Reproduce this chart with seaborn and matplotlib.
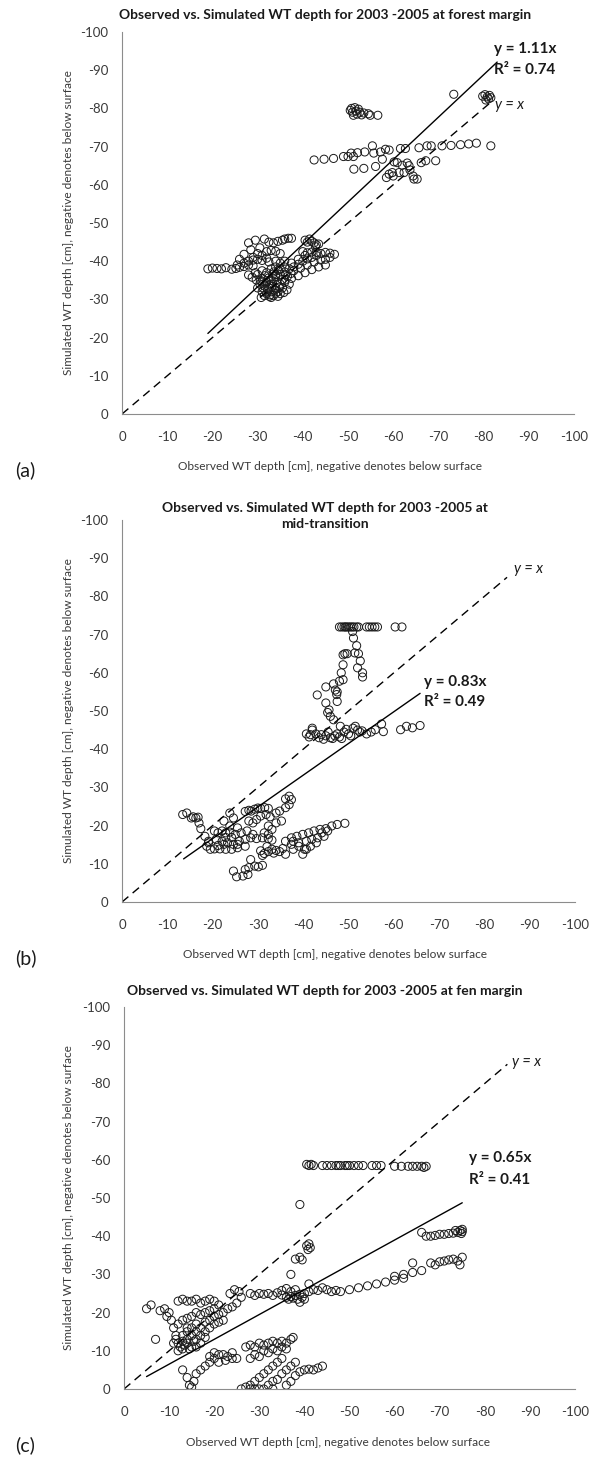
import matplotlib
matplotlib.use("Agg")
import matplotlib.pyplot as plt
import seaborn as sns
import pandas as pd

sns.set_theme(style="white")
plt.rcParams['font.family'] = ['Lato', 'DejaVu Sans']

# ---------------- data (observed x, simulated y), cm ----------------
pts_a = [
    # upper cluster
    (-50.5,-79.5),(-50.8,-80),(-51,-79),(-51.2,-78.2),(-51.5,-80.2),(-51.8,-79.3),(-52,-78.5),(-52.3,-79.8),
    (-52.6,-79),(-53,-78.3),(-53.5,-78.8),(-54.5,-78.6),(-54.9,-78.2),(-56.6,-78.2),
    (-73.4,-83.7),(-79.8,-83.2),(-80.3,-83.6),(-80.8,-83),(-81.1,-82.5),(-81.3,-83.4),(-81.6,-82.8),(-80.5,-82.2),
    (-42.5,-66.5),(-44.7,-66.7),(-46.8,-66.9),(-49.0,-67.4),(-50.0,-67.4),(-50.7,-68.3),(-51.2,-67.4),(-51.3,-64.1),
    (-52.1,-68.4),(-53.5,-64.3),(-53.7,-68.6),(-55.4,-70.2),(-55.7,-68.3),(-56.1,-64.8),(-57.2,-68.6),(-57.6,-66.7),
    (-58.3,-69.3),(-59.1,-69.1),(-58.5,-61.9),(-59.1,-62.8),(-59.8,-63.2),(-60.0,-62.3),(-60.2,-66.0),(-60.9,-65.8),
    (-61.3,-63.2),(-61.6,-69.5),(-62.0,-65.1),(-62.4,-63.2),(-62.7,-69.5),(-63.1,-65.7),(-63.5,-65.0),(-63.7,-63.9),
    (-64.4,-62.3),(-64.6,-61.5),(-65.3,-61.5),(-65.7,-69.7),(-66.2,-65.8),(-67.2,-66.3),(-67.5,-70.2),(-68.4,-70.2),
    (-69.4,-66.3),(-70.8,-70.2),(-72.8,-70.3),(-74.9,-70.5),(-76.7,-70.7),(-78.4,-70.9),(-81.6,-70.2),
    # lower cluster
    (-19,-38),(-20,-38.2),(-21,-38.1),(-22,-38),(-23,-38.3),(-24.3,-37.9),(-25.2,-38.1),(-26,-38.4),(-27,-38.6),(-28,-39),
    (-27,-39.5),(-28,-40),(-29,-40.3),(-30,-40.5),(-31,-40.2),(-32,-40.8),(-26,-40.5),(-27,-41.8),(-28.5,-43),
    (-28,-44.8),(-29.5,-45.5),(-30.5,-43.5),(-31.5,-45.8),(-32.5,-45),(-33.5,-44.8),(-34.5,-45.2),(-35.5,-45.5),
    (-36,-45.8),(-36.8,-46),(-37.5,-46),(-30,-42),(-31,-41.5),(-32,-42.5),(-33,-42.8),(-34,-42.6),(-35,-42),(-29,-41),
    (-40.5,-45.5),(-41,-45),(-41.5,-45.8),(-42,-45.2),(-42.5,-44.8),(-43,-44.3),(-43.5,-44.5),(-42.8,-43.8),
    (-40,-42.5),(-41,-42.2),(-42,-42.4),(-43,-42.3),(-44,-42),(-45,-42.3),(-46,-42.1),(-47,-41.8),
    (-33,-35),(-34,-36),(-35,-36.5),(-36,-37.2),(-37,-38),(-38,-38.5),(-39,-39.2),(-40,-40),(-41,-40.6),(-42,-41),
    (-43,-41.5),(-36,-38.5),(-37.5,-39.5),(-39,-40.5),(-40.5,-41.5),(-35,-38),(-38,-37.5),(-39.5,-38.2),(-41,-39),
    (-42.5,-39.8),(-44,-40.3),(-45,-40.5),(-46,-41),
    (-36,-34.5),(-37.5,-35.5),(-39,-36.2),(-40.5,-37),(-42,-37.8),(-43.5,-38.5),(-45,-39),
    (-30,-33),(-30.5,-34),(-31,-32),(-31.5,-33.5),(-32,-31.5),(-32,-34.5),(-32.5,-33),(-33,-32),(-33,-34),(-33.5,-31),
    (-33.5,-35.5),(-34,-33),(-34,-36.5),(-34.5,-32),(-35,-34),(-35,-31.5),(-35.5,-33),(-36,-35),(-31,-35.5),
    (-30,-36.5),(-29.5,-37),(-31,-37.5),(-32,-37),(-33,-38),(-34,-38.5),(-35,-39.5),(-32.5,-39.8),(-34,-40),(-36,-40),
    (-31.5,-31),(-33,-30.5),(-34.5,-30.8),(-36.5,-32.5),(-37,-34),(-30.8,-30.5),
    (-31.2,-33),(-31.8,-34.2),(-32.2,-32.6),(-32.8,-31.2),(-33.2,-33.4),(-33.8,-32.4),(-34.2,-34.4),(-34.8,-33.2),
    (-32.4,-35.6),(-33.4,-36.6),(-31.6,-36.2),(-30.6,-35),(-35.4,-35.2),(-36.2,-36.4),(-32.6,-30.8),(-34,-31.6),
    (-35.8,-31.8),(-31,-34.6),(-33.6,-37.2),(-34.6,-37.6),(-36.6,-36),(-37.4,-36.8),
    (-28,-36.4),(-28.8,-35.8),(-29.7,-35.1),(-29,-38.8),(-25.5,-39),
]

pts_b = [
    (-48,-72),(-48.5,-72),(-49,-72),(-49.3,-72),(-49.6,-72),(-50,-72),(-50.4,-72),(-50.8,-72),(-51.2,-72),
    (-51.8,-72),(-52.2,-72),(-54,-72),(-54.6,-72),(-55.2,-72),(-55.8,-72),(-56.4,-72),(-60.3,-72),(-61.8,-72),
    (-50.9,-70.8),(-51.1,-69.1),(-51.8,-67.1),(-52.2,-65.0),(-51.4,-65.2),(-49.2,-65.0),(-48.8,-64.7),(-49.7,-65),
    (-52.6,-63.1),(-52,-61.3),(-53.1,-60),(-53.1,-58.9),(-48.8,-62.1),(-48.4,-60),(-48.8,-58.2),(-48,-57.8),
    (-46.7,-57.1),(-47.1,-55.5),(-47.5,-55),(-47.4,-54.3),(-47.5,-52.5),(-45,-56.3),(-43.1,-54.2),(-45,-52.1),
    (-45.7,-50.3),(-45.4,-49.6),(-46,-48.6),(-46.7,-47.7),(-48.2,-46),
    (-40.7,-44),(-41.3,-43.2),(-42,-45),(-42.8,-44),(-43.5,-43),(-44,-43.8),(-44.5,-42.6),(-45,-43.5),(-45.5,-44.5),
    (-46,-43),(-46.5,-42.8),(-47,-43.5),(-47.5,-44),(-48,-43.2),(-48.5,-42.8),(-49,-44.5),(-49.5,-45.2),(-50,-44),
    (-50.5,-43.5),(-51,-45.5),(-51.5,-46),(-52,-45),(-52.5,-44.5),(-53,-44.8),(-54,-44),(-55,-44.5),
    (-55.9,-45.1),(-57.3,-46.6),(-57.7,-44.6),(-61.5,-45.1),(-62.8,-46),(-64.1,-45.6),(-65.8,-46.2),(-42,-45.5),(-41.6,-43.8),
    (-13.4,-22.9),(-14.3,-23.3),(-15.7,-22.3),(-16.3,-22),(-16.8,-22.2),(-17,-20.7),(-17.4,-19.2),(-18.3,-17.2),
    (-19.1,-15.9),(-19.5,-13.8),(-15.3,-22),(-18.7,-14.6),
    (-20.4,-18.6),(-21.2,-18.1),(-22.1,-18.6),(-22.9,-18.1),(-23.8,-18.3),(-20.4,-13.9),(-21.6,-13.9),(-22.9,-13.8),
    (-24.2,-13.8),(-25.5,-14.2),(-20.8,-16.4),(-22.1,-15.9),(-23.3,-15.5),(-24.6,-15.1),(-25.9,-15.9),(-27.2,-16.4),
    (-28.4,-16.8),(-29.7,-16.6),(-31,-16.8),(-32.3,-16.6),(-33.1,-16.2),(-25,-17.7),(-26.3,-18.1),(-27.6,-18.6),
    (-28.9,-17.7),(-23.8,-19.9),(-25.5,-19.4),(-27.2,-14.6),(-25.5,-15.1),(-22.5,-15.1),(-21.2,-14.8),(-24.2,-16.9),
    (-22.9,-16.9),(-22.5,-21.2),(-23.8,-23.3),(-24.6,-22),
    (-27.2,-23.7),(-28,-24),(-28.5,-23.8),(-29.3,-24.3),(-30,-24.6),(-30.6,-24.5),(-31.5,-24.7),(-32.3,-24.5),
    (-28,-21.2),(-28.9,-20.7),(-29.7,-21.6),(-30.6,-22.5),(-31.8,-22.9),(-32.7,-22.3),(-34,-23.3),(-34.8,-23.8),
    (-36.1,-24.7),(-36.9,-25.5),(-37.4,-26.8),(-36.1,-27),(-36.9,-27.7),(-32.3,-19.9),(-33.1,-19),(-34,-20.7),
    (-35.2,-21.2),(-31.4,-18.1),(-32.3,-17.7),
    (-30.6,-13.4),(-31.4,-12.7),(-32.3,-13.2),(-33.1,-13.8),(-34,-13.5),(-34.8,-13.2),(-31,-12.2),(-33.5,-12.8),
    (-32,-14.5),(-35.5,-14),(-36.1,-12.5),(-37.8,-13.8),(-39.9,-12.5),(-40.7,-13.8),(-39,-14.6),(-37.8,-15.9),
    (-24.6,-8.1),(-25.3,-6.6),(-26.7,-6.8),(-27.2,-8.5),(-28,-9),(-28.4,-11.1),(-29.3,-9.4),(-30.1,-9.2),(-31,-9.6),(-27.8,-7.2),
    (-36.1,-15.9),(-37.4,-16.8),(-38.6,-17.2),(-39.9,-17.7),(-41.2,-18.1),(-42.4,-18.6),(-43.7,-19),(-45,-19.2),
    (-46.3,-19.9),(-47.5,-20.3),(-49.2,-20.6),(-37.4,-15.1),(-39,-15.5),(-40.7,-15.9),(-41.9,-16.4),(-43.2,-16.8),
    (-44.6,-17.2),(-41.6,-14.6),(-40.3,-13.8),(-42.9,-15.5),(-44.1,-18.1),(-45.4,-18.6),(-19.1,-15.5),
]

pts_c = [
    (-40.5,-58.8),(-41,-58.5),(-41.5,-58.8),(-42,-58.5),(-44,-58.5),(-45,-58.5),(-46,-58.5),(-47,-58.5),(-47.5,-58.5),
    (-48,-58.5),(-49,-58.5),(-49.5,-58.5),(-50,-58.5),(-51,-58.5),(-52,-58.5),(-53,-58.5),(-55,-58.5),(-56,-58.5),
    (-57,-58.5),(-60,-58.3),(-61.5,-58.3),(-63,-58.3),(-64,-58.3),(-65,-58.3),(-66,-58.3),(-66.5,-58),(-67,-58.3),
    (-39,-48.3),(-40.5,-37.5),(-41,-38),(-41.3,-37),(-40.8,-36.5),(-37,-30),(-38,-34),(-39,-34.5),(-39.5,-33.8),
    (-28,-25),(-29,-24.5),(-30,-25),(-31,-24.8),(-32,-25),(-33,-24.5),(-34,-25.2),(-35,-24.6),(-36,-24),(-36.5,-23.5),
    (-37,-24.2),(-37.5,-23.8),(-38,-24.5),(-38.5,-23.5),(-39,-24.8),(-39.5,-24),(-40,-25),(-41,-25.5),(-42,-26),
    (-43,-25.8),(-44,-26.5),(-45,-26),(-46,-25.5),(-47,-25.8),(-48,-25.5),(-50,-26),(-52,-26.5),(-54,-27),(-56,-27.5),
    (-58,-28),(-60,-28.5),(-62,-29),(-35,-25.8),(-36,-26.3),(-37,-25.5),(-38,-26),(-39,-22.7),(-40,-23.5),(-41,-27.5),
    (-64,-33),(-66,-41),(-67,-40),(-68,-40),(-69,-40.2),(-70,-40.5),(-71,-40.5),(-72,-40.7),(-73,-40.8),(-74,-41),
    (-74.5,-41.5),(-75,-41.2),(-74.8,-40.7),(-73.5,-41.5),(-75,-41.8),
    (-68,-33),(-69,-32.5),(-70,-33.3),(-71,-33.5),(-72,-33.8),(-73,-34),(-74,-33.5),(-74.5,-32.5),(-75,-34.5),
    (-64,-30.5),(-66,-31),(-62,-30),(-60,-29.5),
    (-27,-11),(-28,-11.5),(-29,-11),(-30,-12),(-31,-11.5),(-32,-12),(-33,-12.5),(-34,-12),(-35,-12.5),(-36,-12),
    (-37,-13),(-37.5,-13.5),(-28,-8),(-29,-9),(-30,-8.5),(-31,-10),(-32,-9.5),(-33,-10.5),(-34,-10),(-35,-11),(-36,-10.5),
    (-27,-0.5),(-28,-1),(-29,-2),(-30,-3),(-31,-4),(-32,-5),(-33,-6),(-34,-7),(-35,-8),(-29,0),(-31,0),(-32,-1),
    (-33,-2),(-34,-2.5),(-35,-4),(-36,-5),(-37,-6),(-38,-7),(-26,0),(-28,0),(-30,0),(-33,0),(-36,-1),(-37,-2),
    (-38,-3.5),(-39,-4.5),(-40,-5),(-41,-5.2),(-42,-5),(-43,-5.5),(-44,-6),
    (-5,-21),(-6,-22),(-7,-13),(-8,-20.5),(-9,-21),(-10,-20),(-9.5,-19),(-10.5,-18),(-11,-16),(-11.5,-14),(-12,-12),
    (-12.5,-11),(-13,-10.5),(-13.5,-11.5),(-14,-12),(-14.5,-10.5),(-15,-11),(-15.5,-12.5),(-16,-11),(-13,-14),
    (-14,-15),(-15,-16),(-16,-17),(-17,-16),(-18,-17.5),(-19,-18),(-20,-19),(-21,-19.5),(-22,-20),(-23,-21),
    (-24,-21.5),(-25,-22.5),(-26,-24),(-25.5,-25.5),(-24.5,-26),(-23.5,-25),(-12,-23),(-13,-23.5),(-14,-23),
    (-15,-23),(-16,-23.5),(-17,-22.5),(-18,-23),(-19,-23.5),(-20,-23),(-21,-22),(-12,-17),(-13,-18),(-14,-18.5),
    (-15,-19),(-16,-20),(-17,-19.5),(-18,-20),(-19,-20.5),(-20,-21),(-14,-16),(-15,-14),(-16,-15),(-17,-14),
    (-18,-15),(-19,-16),(-20,-17),(-21,-17.5),(-22,-18),(-11,-12),(-11.5,-13),(-12,-10),(-13,-12.5),(-14,-13),
    (-16,-13),(-17,-12),(-18,-13.5),
    (-13,-5),(-14,-3),(-14.5,-1),(-15,-0.5),(-15.5,-2),(-16,-4),(-17,-5),(-18,-6),(-19,-7),(-20,-8),(-21,-9),
    (-20,-9.5),(-22,-9),(-23,-8.5),(-24,-8),(-25,-8),(-22.5,-7.5),(-24,-9.5),(-19,-8.5),(-21,-7),
]

titles = ["Observed vs. Simulated WT depth for 2003 -2005 at forest margin",
          "Observed vs. Simulated WT depth for 2003 -2005 at\nmid-transition",
          "Observed vs. Simulated WT depth for 2003 -2005 at fen margin"]
panel_tags = ["(a)", "(b)", "(c)"]
slopes = [1.11, 0.83, 0.65]
r2_vals = [0.74, 0.49, 0.41]
fit_x = [(-19, -83), (-13.6, -65.8), (-5, -75)]
ident_end = [-82, -85, -85]
eq_pos = [(-82.3, -95.5, -90.0), (-66.6, -57.5, -52.3), (-76.5, -60.5, -54.8)]
yx_pos = [(-82.6, -80.8), (-86.5, -87.2), (-86.0, -85.6)]
ticks = [0, -10, -20, -30, -40, -50, -60, -70, -80, -90, -100]
x_label = "Observed WT depth [cm], negative denotes below surface"
y_label = "Simulated WT depth [cm], negative denotes below surface"

# ---------------- layout (pixels) ----------------
W, H = 600, 1459
fig = plt.figure(figsize=(W / 100, H / 100), dpi=100)
fig.patch.set_facecolor("white")
boxes = [(122, 32, 574, 414), (122, 520, 575, 902), (124, 1007, 575, 1389)]
title_y = [15, 516, 991]
tag_y = [470, 958, 1445]
xlab_y = [467, 955, 1442]
xlab_x = [330, 335, 338]

gray = "#8c8c8c"
txt = "#3a3a3a"
all_pts = [pts_a, pts_b, pts_c]

for i in range(3):
    l, t, r, b = boxes[i]
    ax = fig.add_axes([l / W, 1 - b / H, (r - l) / W, (b - t) / H])
    df = pd.DataFrame(all_pts[i], columns=["obs", "sim"])
    sns.scatterplot(data=df, x="obs", y="sim", ax=ax, marker="o", s=34,
                    facecolors="none", edgecolor="#1a1a1a", linewidth=0.7, legend=False)
    ax.plot([0, ident_end[i]], [0, ident_end[i]], color="black", lw=1.0,
            linestyle=(0, (6, 4)))
    x0, x1 = fit_x[i]
    ax.plot([x0, x1], [slopes[i] * x0, slopes[i] * x1], color="black", lw=1.0)
    ex, ey1, ey2 = eq_pos[i]
    ax.text(ex, ey1, f"y = {slopes[i]:.2f}x", fontsize=11, fontweight="bold",
            color="#1a1a1a", va="center", ha="left")
    ax.text(ex, ey2, f"R² = {r2_vals[i]:.2f}", fontsize=11, fontweight="bold",
            color="#1a1a1a", va="center", ha="left")
    ax.text(yx_pos[i][0], yx_pos[i][1], "y = x", fontsize=10.5, fontstyle="italic",
            color="#1a1a1a", va="center", ha="left")

    ax.set_xlim(0, -100)
    ax.set_ylim(0, -100)
    ax.set_xticks(ticks)
    ax.set_yticks(ticks)
    ax.set_xticklabels([str(v) for v in ticks])
    ax.set_yticklabels([str(v) for v in ticks])
    ax.tick_params(axis="both", direction="out", length=4, width=0.8, color=gray,
                   labelsize=9.5, labelcolor=txt, pad=6)
    ax.tick_params(axis="x", pad=8)
    for s in ["top", "right"]:
        ax.spines[s].set_visible(False)
    for s in ["left", "bottom"]:
        ax.spines[s].set_color(gray)
        ax.spines[s].set_linewidth(0.8)
    ax.set_facecolor("white")
    ax.grid(False)
    ax.set_xlabel("")
    ax.set_ylabel(y_label, fontsize=8.6, color=txt)
    ax.yaxis.set_label_coords((74 - l) / (r - l), 0.5)

    fig.text(325 / W, 1 - title_y[i] / H, titles[i], ha="center", va="center",
             fontsize=10, fontweight="bold", color="#1a1a1a", linespacing=1.45)
    fig.text(15 / W, 1 - tag_y[i] / H, panel_tags[i], ha="left", va="center",
             fontsize=14, color="#1a1a1a")
    fig.text(xlab_x[i] / W, 1 - xlab_y[i] / H, x_label, ha="center", va="center",
             fontsize=8.6, color=txt)

fig.savefig("out.png", dpi=100, facecolor="white")
